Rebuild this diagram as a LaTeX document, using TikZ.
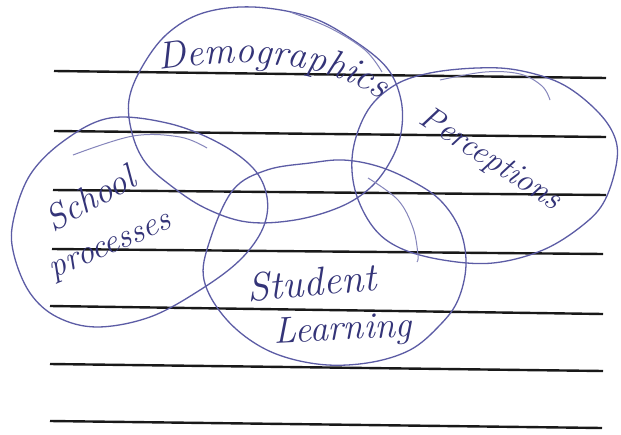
\documentclass[tikz,border=0pt]{standalone}
\usepackage{fontspec}
\usetikzlibrary{decorations.text}
\definecolor{ink}{RGB}{92,92,165}
\definecolor{inktext}{RGB}{52,52,120}
\definecolor{rulecol}{RGB}{25,25,25}
\begin{document}
\begin{tikzpicture}[x=1pt,y=-1pt,
  ruleline/.style={draw=rulecol,line width=2.4pt},
  penloop/.style={draw=ink,line width=1.3pt},
  faint/.style={draw=ink!75,line width=1pt},
  hand/.style={text=inktext,inner sep=0pt,font=\fontsize{#1}{#1}\selectfont\itshape},
  hand/.default=34]
\useasboundingbox[fill=white] (0,0) rectangle (621,434);

% ruled lines
\draw[ruleline] (54,71) -- (606,78);
\draw[ruleline] (54,131) -- (606,137);
\draw[ruleline] (53,190) -- (606,195);
\draw[ruleline] (52,249) -- (603,254);
\draw[ruleline] (50,306) -- (603,314);
\draw[ruleline] (50,364) -- (603,371);
\draw[ruleline] (50,421) -- (602,428);

% Demographics loop
\draw[penloop] plot[smooth cycle,tension=0.6] coordinates {
 (253,7) (310,17) (353,40) (387,68) (401,100) (401,133) (390,162) (370,188)
 (340,207) (295,220) (247,222) (205,208) (170,185) (145,162) (132,133)
 (129,100) (142,67) (167,34) (203,13)};
\draw[faint] plot[smooth,tension=0.6] coordinates {(290,12) (330,28) (365,50) (382,72)};

% School processes loop
\draw[penloop] plot[smooth cycle,tension=0.6] coordinates {
 (110,118) (167,123) (217,142) (253,168) (267,197) (263,228) (240,260)
 (200,290) (150,317) (97,327) (57,317) (30,293) (14,255) (13,222)
 (30,175) (65,140)};
\draw[faint] plot[smooth,tension=0.6] coordinates {(73,155) (133,136) (180,137) (207,148)};

% Perceptions loop
\draw[penloop] plot[smooth cycle,tension=0.6] coordinates {
 (430,73) (477,68) (517,70) (560,83) (593,107) (613,133) (617,160)
 (605,200) (583,225) (543,250) (493,263) (443,260) (400,248) (373,227)
 (355,190) (353,150) (368,110) (395,85)};
\draw[faint] plot[smooth,tension=0.6] coordinates {(440,80) (485,72) (520,74) (542,86) (550,100)};

% Student Learning loop
\draw[penloop] plot[smooth cycle,tension=0.6] coordinates {
 (310,163) (343,160) (377,166) (410,180) (440,200) (460,230) (466,265)
 (458,300) (440,325) (410,350) (367,363) (317,364) (267,350) (227,320)
 (204,280) (210,240) (233,190) (267,170)};
\draw[faint] plot[smooth,tension=0.6] coordinates {(368,178) (398,200) (413,228) (418,255) (417,262)};

% labels
\coordinate (demoA) at (160,70);
\coordinate (demoB) at (412,125);
\path[decorate,decoration={text along path,
   text={|\fontsize{38}{38}\selectfont\itshape\color{inktext}|Demographics},
   text align={left indent=0pt}}]
  (demoA) .. controls (250,56) and (345,58) .. (demoB);

\node[hand=33,rotate=-33] (perc) at (490,160) {Perceptions};
\node[hand=36,rotate=29] (school) at (90,198) {School};
\node[hand=34,rotate=23] (proc) at (112,249) {processes};
\node[hand=40,rotate=5] (stud) at (312,282) {Student};
\node[hand=37,rotate=3] (learn) at (343,331) {Learning};
\end{tikzpicture}
\end{document}
